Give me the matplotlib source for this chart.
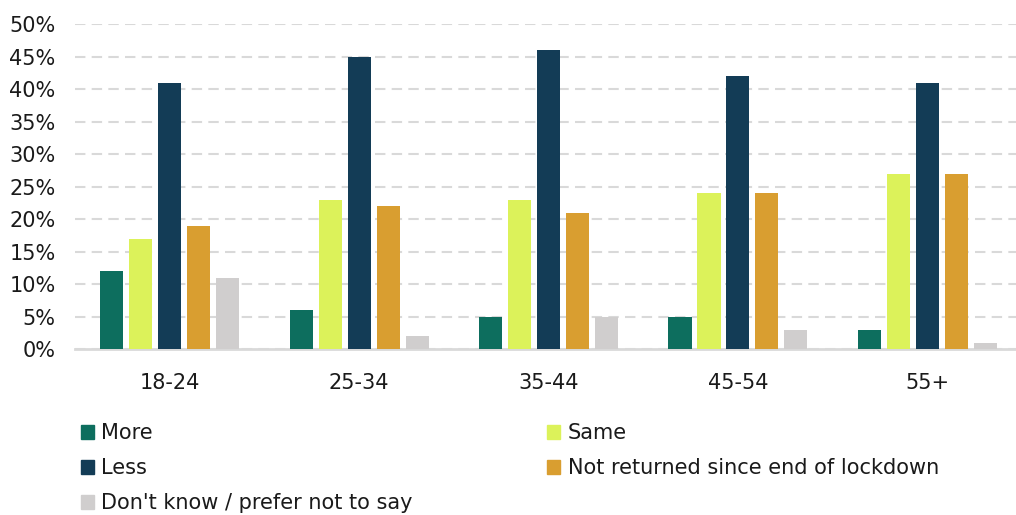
import matplotlib.pyplot as plt
import numpy as np
from matplotlib.patches import Patch
from matplotlib.ticker import FuncFormatter

# Change in visits since lockdown, by age band (% of respondents)
age_groups = ['18-24', '25-34', '35-44', '45-54', '55+']
series_names = ['More', 'Same', 'Less', 'Not returned since end of lockdown',
                "Don't know / prefer not to say"]
more = [12, 6, 5, 5, 3]
same = [17, 23, 23, 24, 27]
less = [41, 45, 46, 42, 41]
not_returned = [19, 22, 21, 24, 27]
dont_know = [11, 2, 5, 3, 1]

colors = ['#0d6e5e', '#dcf25a', '#133c56', '#d99e30', '#d0cece']

plt.rcParams['font.family'] = ['DejaVu Sans']
text_color = '#1a1a1a'

fig = plt.figure(figsize=(10.16, 5.15), dpi=100)
ax = fig.add_axes([0.0738, 0.3223, 0.9262, 0.6311])

x = np.arange(len(age_groups))
width = 0.122
step = 0.153
all_series = [more, same, less, not_returned, dont_know]
for i, (vals, color) in enumerate(zip(all_series, colors)):
    ax.bar(x + (i - 2) * step, vals, width, color=color, zorder=3)

ax.set_xlim(-0.5, 4.468)
ax.set_ylim(0, 50)
ax.set_yticks(np.arange(0, 51, 5))
ax.yaxis.set_major_formatter(FuncFormatter(lambda v, _: f'{int(v)}%'))
ax.set_xticks(x)
ax.set_xticklabels(age_groups)
ax.tick_params(axis='both', length=0, labelsize=15, colors=text_color)
ax.tick_params(axis='y', pad=14)
ax.tick_params(axis='x', pad=17)

ax.grid(axis='y', color='#d9d9d9', linewidth=1.5, linestyle=(0, (5, 3)), zorder=0)
for side in ['left', 'right', 'top']:
    ax.spines[side].set_visible(False)
ax.spines['bottom'].set_color('#d9d9d9')
ax.spines['bottom'].set_linewidth(2)

handles = [Patch(color=c) for c in colors]
legend_kw = dict(frameon=False, fontsize=15, handlelength=0.65, handleheight=0.65,
                 handletextpad=0.35, labelspacing=0.72, borderpad=0, loc='upper left',
                 labelcolor=text_color)
fig.legend([handles[0], handles[2], handles[4]],
           [series_names[0], series_names[2], series_names[4]],
           bbox_to_anchor=(0.069, 0.199), **legend_kw)
fig.legend([handles[1], handles[3]],
           [series_names[1], series_names[3]],
           bbox_to_anchor=(0.528, 0.199), **legend_kw)

fig.savefig('out.png', dpi=100)
